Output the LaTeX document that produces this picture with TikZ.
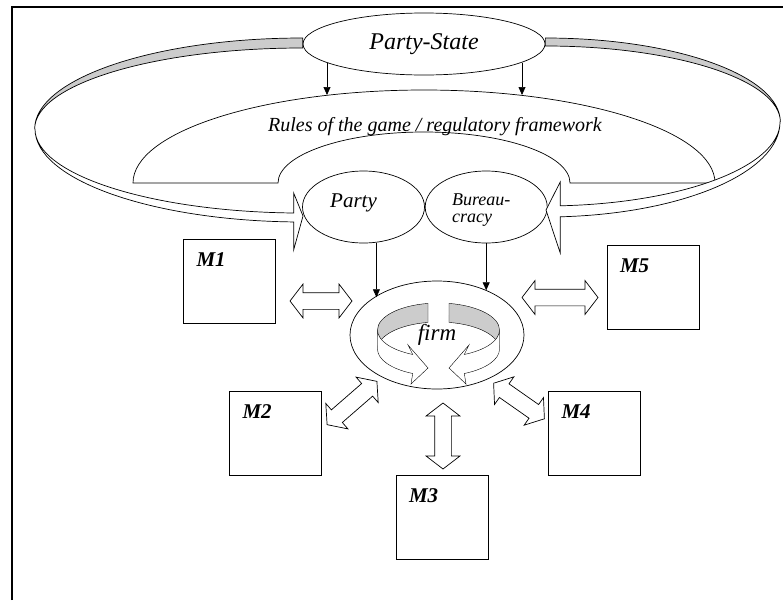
\documentclass[tikz,border=0pt]{standalone}
\usepackage{fontspec}
\setmainfont{Liberation Serif}
\usepackage{tikz}
\usetikzlibrary{positioning,shapes,arrows.meta,backgrounds,calc}
\tikzstyle{oval} = [ellipse, draw, inner sep=0pt, %
   minimum width=122pt, minimum height=72pt]
\tikzstyle{mbox} = [rectangle, draw, inner sep=0pt, %
   minimum width=92pt, minimum height=84pt]
\tikzstyle{mlabel} = [anchor=north west, inner sep=0pt, xshift=13pt, yshift=-14pt, %
   font=\fontsize{21}{24}\selectfont\bfseries\itshape]
\tikzstyle{swap} = [double arrow, draw, fill=white, inner xsep=0pt, inner ysep=8pt, %
   double arrow head extend=8.5pt, double arrow tip angle=105]
\tikzstyle{ribbon} = [draw]
\tikzstyle{line} = [draw, -{Triangle[length=8pt,width=7pt]}]
\newcommand{\itsize}[1]{\fontsize{#1}{#1}\selectfont\itshape}

\begin{document}
\begin{tikzpicture}[x=1pt, y=-1pt, line width=0.7pt]
   \useasboundingbox (0,0) rectangle (783,600);
   % Frame
   \draw[line width=1.4pt] (12,600) -- (12,7) -- (783,7);

% Party-State and rules %%%%%%%%%%%%%%%%%%%%%%%%%%%%%%%%%%%%%%%%%%%%%%
   \node[oval, minimum width=242pt, minimum height=62pt, font=\itsize{24}](PS) at (424,44){%
      Party-State};

   \draw (133,183) arc[start angle=180, end angle=360, x radius=291, y radius=93] -- (570,183)
      arc[start angle=0, end angle=-180, x radius=146, y radius=51] -- cycle;
   \node[font=\itsize{20}](rules) at (435,127){Rules of the game / regulatory framework};

   \coordinate (rulesL) at (327,95);
   \coordinate (rulesR) at (522,95);

% Party and Bureaucracy %%%%%%%%%%%%%%%%%%%%%%%%%%%%%%%%%%%%%%%%%%%%%%
   \node[oval, label={[font=\itsize{21}, xshift=-10pt, yshift=4pt]center:Party}](party) at (363.5,207){};
   \node[oval, right=0pt of party, label={[font=\itsize{18}, align=left, xshift=-5pt, yshift=-3pt]%
      center:{Bureau-\\[-1pt]cracy}}](bureau){};

% Loops back from the Party-State %%%%%%%%%%%%%%%%%%%%%%%%%%%%%%%%%%%%
   \filldraw[ribbon, fill=gray!40] ($(PS.west)+(0,-6)$)
      arc[start angle=270, end angle=180, x radius=268, y radius=91]
      arc[start angle=180, end angle=270, x radius=268, y radius=81] -- cycle;
   \filldraw[ribbon, fill=white] (35,129)
      arc[start angle=180, end angle=92, x radius=268, y radius=93]
      -- ++(0,28) -- (303,216) -- (293.65,193) -- (293.65,213)
      arc[start angle=92, end angle=180, x radius=268, y radius=84] -- cycle;

   \filldraw[ribbon, fill=gray!40] ($(PS.east)+(0,-6)$)
      arc[start angle=270, end angle=360, x radius=235, y radius=84]
      arc[start angle=0, end angle=-90, x radius=235, y radius=76] -- cycle;
   \filldraw[ribbon, fill=white] (780,122)
      arc[start angle=0, end angle=86.3, x radius=235, y radius=95]
      -- (560.2,253) -- (546,210) -- (560.2,182) -- (560.2,205.8)
      arc[start angle=86.3, end angle=0, x radius=235, y radius=84] -- cycle;

% Firm %%%%%%%%%%%%%%%%%%%%%%%%%%%%%%%%%%%%%%%%%%%%%%%%%%%%%%%%%%%%%%%
   \node[ellipse, draw, inner sep=0pt, minimum width=174pt, minimum height=108pt, %
      font=\itsize{23}](firm) at (437,335){firm};

   \begin{scope}[on background layer]
      % left half turn
      \filldraw[ribbon, fill=gray!40] (428,303.4)
         arc[start angle=260.1, end angle=180, x radius=61, y radius=27] -- (377.5,349)
         arc[start angle=180, end angle=260.1, x radius=61, y radius=27] -- cycle;
      \filldraw[ribbon, fill=white] (377.5,330)
         arc[start angle=180, end angle=115, x radius=61, y radius=27]
         -- (408,345) -- (428,368) -- (411,384) -- (412.7,373.5)
         arc[start angle=115, end angle=180, x radius=61, y radius=27] -- cycle;
      % right half turn
      \filldraw[ribbon, fill=gray!40] (449,303.4)
         arc[start angle=279.9, end angle=360, x radius=61, y radius=27] -- (499.5,349)
         arc[start angle=0, end angle=-80.1, x radius=61, y radius=27] -- cycle;
      \filldraw[ribbon, fill=white] (499.5,330)
         arc[start angle=0, end angle=65, x radius=61, y radius=27]
         -- (469,345) -- (449,368) -- (466,384) -- (464.3,373.5)
         arc[start angle=65, end angle=0, x radius=61, y radius=27] -- cycle;
   \end{scope}

% Markets %%%%%%%%%%%%%%%%%%%%%%%%%%%%%%%%%%%%%%%%%%%%%%%%%%%%%%%%%%%%
   \node[mbox, label={[mlabel]north west:M1}](M1) at (229.5,281){};
   \node[mbox, label={[mlabel]north west:M2}](M2) at (275.5,433){};
   \node[mbox, label={[mlabel]north west:M3}](M3) at (442,517){};
   \node[mbox, label={[mlabel]north west:M4}](M4) at (594.5,433){};
   \node[mbox, label={[mlabel]north west:M5}](M5) at (653,287){};

   \node[swap, minimum height=62pt](sw1) at (321,301){};
   \node[swap, minimum height=66pt, rotate=41](sw2) at (352,403){};
   \node[swap, minimum height=66pt, rotate=90](sw3) at (443,436){};
   \node[swap, minimum height=62pt, rotate=-35](sw4) at (519,401){};
   \node[swap, minimum height=76pt](sw5) at (560,297.5){};

   % Draw edges
   \path [line] (rulesL |- PS.191) -- (rulesL);
   \path [line] (rulesR |- PS.349) -- (rulesR);
   \path [line] (party.-70) -- (party.-70 |- firm.149);
   \path [line] (bureau.south) -- (bureau.south |- firm.42);

\end{tikzpicture}
\end{document}
